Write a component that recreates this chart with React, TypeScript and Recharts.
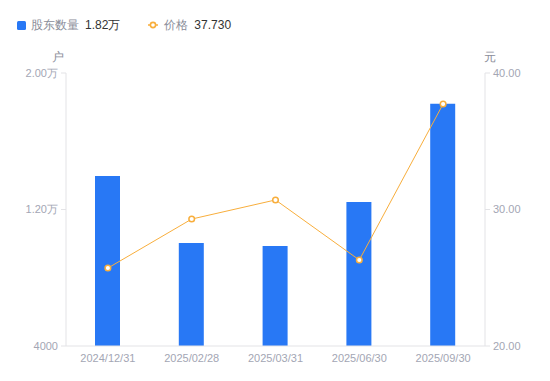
import React from "react";
import { ComposedChart, Bar, Line, XAxis, YAxis } from "recharts";

const categories = ["2024/12/31", "2025/02/28", "2025/03/31", "2025/06/30", "2025/09/30"];
const holders = [13960, 10040, 9860, 12440, 18200];
const prices = [25.71, 29.3, 30.7, 26.3, 37.73];
const leftTicks = [4000, 12000, 20000];
const rightTicks = [20, 30, 40];

const data = categories.map((c, i) => ({ date: c, holders: holders[i], price: prices[i] }));

const BAR = "#2878f5";
const LINE = "#f8ae3c";
const TICK = "#a3a6b4";
const AXIS = "#e3e3e6";
const FONT = "'Liberation Sans', Arial, sans-serif";

const fmtLeft = (v: number) => (v >= 10000 ? (v / 10000).toFixed(2) + "万" : String(v));
const fmtRight = (v: number) => v.toFixed(2);

const LegendContent = () => (
  <div style={{ display: "flex", alignItems: "center", fontSize: 12, fontFamily: FONT, lineHeight: "16px" }}>
    <span style={{ width: 9, height: 9, background: BAR, borderRadius: 1.5, display: "inline-block", marginRight: 5 }} />
    <span style={{ color: "#8a8d99" }}>股东数量</span>
    <span style={{ color: "#333", marginLeft: 6 }}>{(holders[holders.length - 1] / 10000).toFixed(2)}万</span>
    <svg width={10} height={10} style={{ marginLeft: 28, marginRight: 6 }}>
      <line x1={0} y1={5} x2={10} y2={5} stroke={LINE} strokeWidth={1.5} />
      <circle cx={5} cy={5} r={2.6} fill="#fff" stroke={LINE} strokeWidth={1.6} />
    </svg>
    <span style={{ color: "#8a8d99" }}>价格</span>
    <span style={{ color: "#333", marginLeft: 6 }}>{prices[prices.length - 1].toFixed(3)}</span>
  </div>
);

export default function App() {
  return (
    <div style={{ position: "absolute", left: 0, top: 0, width: 550, height: 381, background: "#fff", fontFamily: FONT }}>
      <ComposedChart width={550} height={381} data={data} margin={{ top: 73, right: 0, bottom: 0, left: 0 }}>
        <XAxis
          dataKey="date"
          height={35}
          tickLine={false}
          axisLine={{ stroke: AXIS }}
          tick={{ fill: TICK, fontSize: 11, fontFamily: FONT }}
          tickMargin={2}
          interval={0}
        />
        <YAxis
          yAxisId="left"
          width={66}
          domain={[4000, 20000]}
          ticks={leftTicks}
          tickFormatter={fmtLeft}
          axisLine={{ stroke: AXIS }}
          tickLine={{ stroke: AXIS }}
          tickSize={5}
          tick={{ fill: TICK, fontSize: 11, fontFamily: FONT }}
          tickMargin={3}
        />
        <YAxis
          yAxisId="right"
          orientation="right"
          width={65}
          domain={[20, 40]}
          ticks={rightTicks}
          tickFormatter={fmtRight}
          axisLine={{ stroke: AXIS }}
          tickLine={{ stroke: AXIS }}
          tickSize={5}
          tick={{ fill: TICK, fontSize: 11, fontFamily: FONT }}
          tickMargin={3}
        />
        <Bar yAxisId="left" dataKey="holders" fill={BAR} barSize={25} isAnimationActive={false} />
        <Line
          yAxisId="right"
          dataKey="price"
          stroke={LINE}
          strokeWidth={1}
          dot={{ r: 2.8, fill: "#fff", stroke: LINE, strokeWidth: 1.5 }}
          activeDot={false}
          isAnimationActive={false}
        />
      </ComposedChart>
      <div style={{ position: "absolute", left: 17, top: 17 }}>
        <LegendContent />
      </div>
      <div style={{ position: "absolute", left: 52, top: 49, fontSize: 12, color: "#8a8d99" }}>户</div>
      <div style={{ position: "absolute", left: 484, top: 49, fontSize: 12, color: "#8a8d99" }}>元</div>
    </div>
  );
}
